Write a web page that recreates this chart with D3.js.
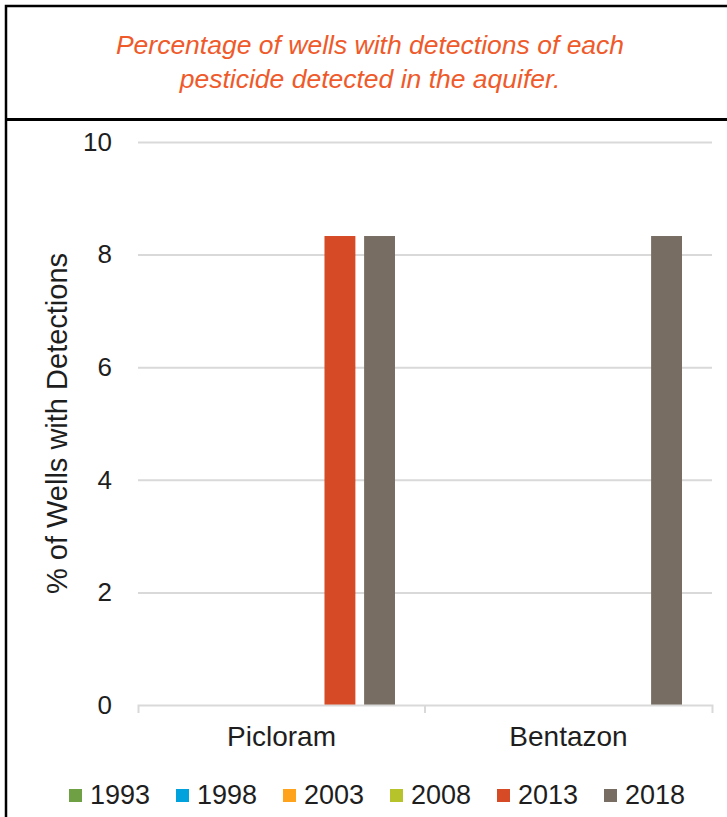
<!DOCTYPE html>
<html>
<head>
<meta charset="utf-8">
<script src="https://cdn.jsdelivr.net/npm/d3@7"></script>
<style>
  body { margin: 0; background: white; }
  svg { display: block; font-family: "Liberation Sans", Arial, sans-serif; }
</style>
</head>
<body>
<svg id="chart"></svg>
<script>
const pesticides = ["Picloram", "Bentazon"]
const years = ["1993", "1998", "2003", "2008", "2013", "2018"]
// % of wells with detections, one array per pesticide, in year order
const picloram = [0, 0, 0, 0, 8.33, 8.33]
const bentazon = [0, 0, 0, 0, 0, 8.33]
const yTicks = [0, 2, 4, 6, 8, 10]
const yearColors = ["#70a044", "#00a2de", "#ffa21c", "#b6c32a", "#d64a26", "#786d62"]
const titleLines = ["Percentage of wells with detections of each", "pesticide detected in the aquifer."]
const yLabel = "% of Wells with Detections"

const width = 727
const height = 817
const plotLeft = 138
const plotRight = 712
const plotTop = 142
const plotBottom = 705
const gridColor = "#d9d9d9"
const textColor = "#1e1e1e"

const rows = pesticides.map((p, i) => ({
  name: p,
  values: years.map((y, j) => ({year: y, value: [picloram, bentazon][i][j]}))
}))

const svg = d3.select("#chart")
  .attr("width", width)
  .attr("height", height)

// frame and title box
svg.append("rect")
  .attr("x", 6).attr("y", 6)
  .attr("width", 760).attr("height", 860)
  .attr("fill", "none")
  .attr("stroke", "black")
  .attr("stroke-width", 2.5)

svg.append("line")
  .attr("x1", 6).attr("x2", width)
  .attr("y1", 119.5).attr("y2", 119.5)
  .attr("stroke", "black")
  .attr("stroke-width", 3)

svg.append("g")
  .selectAll("text")
  .data(titleLines)
  .join("text")
  .attr("x", 370)
  .attr("y", (d, i) => 54 + i * 34)
  .attr("text-anchor", "middle")
  .attr("font-size", 26.5)
  .attr("font-style", "italic")
  .attr("fill", "#ef5a2b")
  .text(d => d)

const y = d3.scaleLinear().domain([0, 10]).range([plotBottom, plotTop])
const x0 = d3.scaleBand().domain(pesticides).range([plotLeft, plotRight])
const x1 = d3.scaleBand().domain(years).range([28, x0.bandwidth() - 30]).paddingInner(0.22)
const color = d3.scaleOrdinal().domain(years).range(yearColors)

// gridlines
svg.append("g")
  .attr("transform", `translate(${plotLeft},0)`)
  .call(d3.axisLeft(y).tickValues(yTicks.filter(t => t > 0)).tickSize(-(plotRight - plotLeft)).tickFormat(""))
  .call(g => g.select(".domain").remove())
  .call(g => g.selectAll("line").attr("stroke", gridColor).attr("stroke-width", 2))

// y tick labels
svg.append("g")
  .attr("transform", `translate(${plotLeft},0)`)
  .call(d3.axisLeft(y).tickValues(yTicks).tickSize(0).tickPadding(26))
  .call(g => g.select(".domain").remove())
  .call(g => g.selectAll("text").attr("font-size", 26).attr("font-family", null).attr("fill", textColor))

svg.append("text")
  .attr("transform", `translate(67,${(plotTop + plotBottom) / 2}) rotate(-90)`)
  .attr("text-anchor", "middle")
  .attr("font-size", 29)
  .attr("fill", textColor)
  .text(yLabel)

// bars
svg.append("g")
  .selectAll("g")
  .data(rows)
  .join("g")
  .attr("transform", d => `translate(${x0(d.name)},0)`)
  .selectAll("rect")
  .data(d => d.values)
  .join("rect")
  .attr("x", d => x1(d.year))
  .attr("width", x1.bandwidth())
  .attr("y", d => y(d.value))
  .attr("height", d => y(0) - y(d.value))
  .attr("fill", d => color(d.year))

// x axis
const xAxis = svg.append("g")
  .attr("transform", `translate(0,${plotBottom})`)
  .call(d3.axisBottom(x0).tickSize(0).tickSizeOuter(8).tickPadding(21))
xAxis.select(".domain").attr("stroke", gridColor).attr("stroke-width", 2)
xAxis.selectAll("text").attr("font-size", 28).attr("font-family", null).attr("fill", textColor)
xAxis.selectAll(".sep")
  .data(pesticides.slice(1))
  .join("line")
  .attr("class", "sep")
  .attr("x1", d => x0(d)).attr("x2", d => x0(d))
  .attr("y1", 0).attr("y2", 8)
  .attr("stroke", gridColor)
  .attr("stroke-width", 2)

// legend
const legendX = d3.scaleBand().domain(years).range([69, 69 + 107 * years.length])
const legend = svg.append("g")
  .selectAll("g")
  .data(years)
  .join("g")
  .attr("transform", d => `translate(${legendX(d)},0)`)

legend.append("rect")
  .attr("y", 789)
  .attr("width", 13)
  .attr("height", 13)
  .attr("fill", d => color(d))

legend.append("text")
  .attr("x", 21)
  .attr("y", 804)
  .attr("font-size", 27)
  .attr("fill", textColor)
  .text(d => d)
</script>
</body>
</html>
